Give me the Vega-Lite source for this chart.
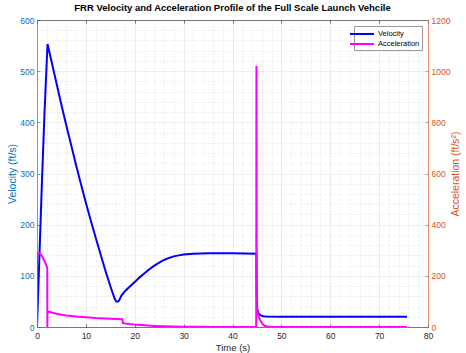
{
  "$schema": "https://vega.github.io/schema/vega-lite/v6.json",
  "autosize": {"type": "none"},
  "padding": {"left": 37, "top": 20, "right": 38, "bottom": 26},
  "width": 391,
  "height": 307,
  "background": "white",
  "config": {
    "font": "Liberation Sans",
    "view": {"stroke": null},
    "axis": {"labelFont": "Liberation Sans", "titleFont": "Liberation Sans", "titleFontWeight": "normal"}
  },
  "title": {
    "text": "FRR Velocity and Acceleration Profile of the Full Scale Launch Vehcile",
    "fontSize": 9.5,
    "fontWeight": "bold",
    "color": "#000000",
    "anchor": "middle",
    "offset": 4
  },
  "datasets": {
    "velocity": [
      {"t": 0, "v": 0}, {"t": 0.5, "v": 140}, {"t": 1.0, "v": 280}, {"t": 1.5, "v": 410}, {"t": 2.0, "v": 520}, {"t": 2.15, "v": 553},
      {"t": 3, "v": 518}, {"t": 4, "v": 476}, {"t": 5, "v": 434}, {"t": 6, "v": 394}, {"t": 7, "v": 355}, {"t": 8, "v": 316},
      {"t": 9, "v": 279}, {"t": 10, "v": 243}, {"t": 11, "v": 208}, {"t": 12, "v": 175}, {"t": 13, "v": 142}, {"t": 14, "v": 110},
      {"t": 15, "v": 80}, {"t": 15.5, "v": 66}, {"t": 15.9, "v": 55}, {"t": 16.2, "v": 50}, {"t": 16.5, "v": 49.5}, {"t": 16.8, "v": 52},
      {"t": 17.1, "v": 58}, {"t": 17.3, "v": 62}, {"t": 18, "v": 70}, {"t": 19, "v": 79}, {"t": 20, "v": 88}, {"t": 21, "v": 97},
      {"t": 22, "v": 105}, {"t": 23, "v": 113}, {"t": 24, "v": 120}, {"t": 25, "v": 126}, {"t": 26, "v": 131}, {"t": 27, "v": 135},
      {"t": 28, "v": 138}, {"t": 29, "v": 140}, {"t": 30, "v": 141.5}, {"t": 32, "v": 143}, {"t": 35, "v": 144}, {"t": 40, "v": 144},
      {"t": 44.88, "v": 143}, {"t": 44.95, "v": 60}, {"t": 45.05, "v": 35}, {"t": 45.3, "v": 27}, {"t": 45.7, "v": 23}, {"t": 46.3, "v": 21},
      {"t": 47, "v": 20.3}, {"t": 50, "v": 20.1}, {"t": 60, "v": 20}, {"t": 75.7, "v": 19.8}
    ],
    "acceleration": [
      {"t": 0, "a": 0}, {"t": 0.02, "a": 282}, {"t": 0.3, "a": 290}, {"t": 0.6, "a": 288}, {"t": 1.0, "a": 278}, {"t": 1.4, "a": 263},
      {"t": 1.8, "a": 246}, {"t": 2.1, "a": 230}, {"t": 2.12, "a": 0}, {"t": 2.16, "a": 62}, {"t": 3, "a": 57}, {"t": 4, "a": 52},
      {"t": 5, "a": 48}, {"t": 6, "a": 45}, {"t": 8, "a": 41}, {"t": 10, "a": 38}, {"t": 12, "a": 35}, {"t": 14, "a": 33},
      {"t": 16, "a": 31}, {"t": 17.5, "a": 30}, {"t": 17.55, "a": 16}, {"t": 18, "a": 14}, {"t": 19, "a": 11.5}, {"t": 20, "a": 9.5},
      {"t": 22, "a": 6.5}, {"t": 24, "a": 4.3}, {"t": 26, "a": 2.8}, {"t": 28, "a": 1.8}, {"t": 30, "a": 1.1}, {"t": 33, "a": 0.5},
      {"t": 36, "a": 0.2}, {"t": 40, "a": 0.05}, {"t": 44.85, "a": 0}, {"t": 44.9, "a": 1020}, {"t": 44.97, "a": 80}, {"t": 45.1, "a": 60},
      {"t": 45.3, "a": 45}, {"t": 45.7, "a": 25}, {"t": 46.1, "a": 12}, {"t": 46.6, "a": 5}, {"t": 47.2, "a": 1.5}, {"t": 48, "a": 0.3},
      {"t": 50, "a": 0}, {"t": 75.7, "a": 0}
    ]
  },
  "layer": [
    {
      "data": {"name": "velocity"},
      "mark": {"type": "line", "strokeWidth": 2, "clip": true},
      "encoding": {
        "x": {
          "field": "t", "type": "quantitative",
          "scale": {"domain": [0, 80], "nice": false, "zero": false},
          "axis": {
            "orient": "bottom",
            "title": "Time (s)",
            "titleFontSize": 9.5,
            "titleColor": "#262626",
            "titlePadding": 3,
            "values": [0,2,4,6,8,10,12,14,16,18,20,22,24,26,28,30,32,34,36,38,40,42,44,46,48,50,52,54,56,58,60,62,64,66,68,70,72,74,76,78,80],
            "labelExpr": "datum.value % 10 === 0 ? datum.label : ''",
            "labelFontSize": 8.5,
            "labelColor": "#262626",
            "labelPadding": 7,
            "labelOverlap": false,
            "labelFlush": false,
            "domainColor": "#262626",
            "domainWidth": 0.6,
            "tickSize": -3,
            "tickColor": "#262626",
            "tickWidth": 0.6,
            "tickOpacity": {"condition": {"test": "datum.value % 10 !== 0", "value": 0}, "value": 1},
            "grid": true,
            "gridColor": {"condition": {"test": "datum.value % 10 !== 0", "value": "#d6d6d6"}, "value": "#e3e3e3"},
            "gridDash": {"condition": {"test": "datum.value % 10 !== 0", "value": [1, 2]}, "value": []},
            "gridWidth": 0.7
          }
        },
        "y": {
          "field": "v", "type": "quantitative",
          "scale": {"domain": [0, 600], "nice": false},
          "axis": {
            "orient": "left",
            "title": "Velocity (ft/s)",
            "titleFontSize": 10.5,
            "titleColor": "#0072BD",
            "titleX": -25,
            "titleBaseline": "middle",
            "values": [0,20,40,60,80,100,120,140,160,180,200,220,240,260,280,300,320,340,360,380,400,420,440,460,480,500,520,540,560,580,600],
            "labelExpr": "datum.value % 100 === 0 ? datum.label : ''",
            "labelFontSize": 8.5,
            "labelColor": "#0072BD",
            "labelPadding": 6,
            "labelOverlap": false,
            "labelFlush": false,
            "domainColor": "#0072BD",
            "domainWidth": 0.6,
            "tickSize": -3,
            "tickColor": "#0072BD",
            "tickWidth": 0.6,
            "tickOpacity": {"condition": {"test": "datum.value % 100 !== 0", "value": 0}, "value": 1},
            "grid": true,
            "gridColor": {"condition": {"test": "datum.value % 100 !== 0", "value": "#d6dde2"}, "value": "#e2e8ec"},
            "gridDash": {"condition": {"test": "datum.value % 100 !== 0", "value": [1, 2]}, "value": []},
            "gridWidth": 0.7
          }
        },
        "color": {
          "datum": "Velocity",
          "scale": {"domain": ["Velocity", "Acceleration"], "range": ["#0000ff", "#ff00ff"]},
          "legend": {
            "orient": "none",
            "legendX": 317,
            "legendY": 6,
            "title": null,
            "symbolType": "M-2.4,0H2.4",
            "symbolSize": 100,
            "symbolStrokeWidth": 2,
            "labelFontSize": 7.5,
            "labelColor": "#000000",
            "labelOffset": 10,
            "rowPadding": -1,
            "padding": 2,
            "strokeColor": "#999999",
            "fillColor": "#ffffff"
          }
        }
      }
    },
    {
      "data": {"name": "acceleration"},
      "mark": {"type": "line", "strokeWidth": 2, "clip": true},
      "encoding": {
        "x": {
          "field": "t", "type": "quantitative",
          "axis": {
            "orient": "top",
            "title": null,
            "labels": false,
            "grid": false,
            "values": [0,10,20,30,40,50,60,70,80],
            "domainColor": "#262626",
            "domainWidth": 0.6,
            "tickSize": -3,
            "tickColor": "#262626",
            "tickWidth": 0.6
          }
        },
        "y": {
          "field": "a", "type": "quantitative",
          "scale": {"domain": [0, 1200], "nice": false},
          "axis": {
            "orient": "right",
            "title": "Acceleration (ft/s²)",
            "titleFontSize": 10.5,
            "titleColor": "#D95319",
            "titleAngle": 270,
            "titleX": 27,
            "titleBaseline": "middle",
            "values": [0,200,400,600,800,1000,1200],
            "format": "d",
            "labelFontSize": 8.5,
            "labelColor": "#D95319",
            "labelPadding": 6,
            "labelOverlap": false,
            "labelFlush": false,
            "domainColor": "#D95319",
            "domainWidth": 0.6,
            "tickSize": -3,
            "tickColor": "#D95319",
            "tickWidth": 0.6,
            "grid": false
          }
        },
        "color": {"datum": "Acceleration"}
      }
    }
  ],
  "resolve": {"scale": {"y": "independent"}, "axis": {"x": "independent", "y": "independent"}}
}
